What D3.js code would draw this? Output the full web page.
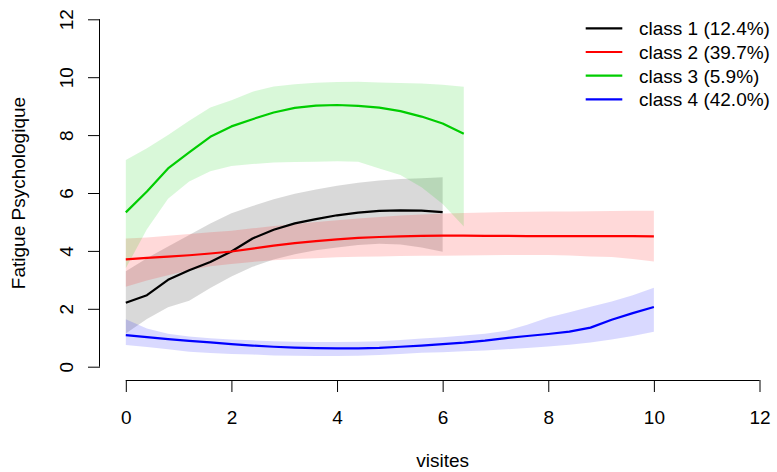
<!DOCTYPE html>
<html>
<head>
<meta charset="utf-8">
<script src="https://cdnjs.cloudflare.com/ajax/libs/d3/7.8.5/d3.min.js"></script>
<style>
  html, body { margin: 0; padding: 0; background: #ffffff; }
  svg { display: block; font-family: "Liberation Sans", Arial, Helvetica, sans-serif; }
</style>
</head>
<body>
<svg id="chart" width="777" height="472"></svg>
<script>
// Visit times shared by all latent classes
const visits = [0, 0.4, 0.8, 1.2, 1.6, 2.0, 2.4, 2.8, 3.2, 3.6, 4.0, 4.4, 4.8,
                5.2, 5.6, 6.0, 6.4, 6.8, 7.2, 7.6, 8.0, 8.4, 8.8, 9.2, 9.6, 10.0];

// Class 1 (up to visit 6)
const class1Mean  = [2.21, 2.47, 3.00, 3.33, 3.62, 3.98, 4.43, 4.73, 4.95, 5.10, 5.23, 5.32, 5.38, 5.40, 5.39, 5.34];
const class1Lower = [1.15, 1.65, 2.05, 2.28, 2.72, 3.12, 3.45, 3.70, 3.88, 4.02, 4.12, 4.20, 4.25, 4.22, 4.12, 3.97];
const class1Upper = [3.30, 3.75, 4.15, 4.55, 4.95, 5.30, 5.55, 5.78, 5.97, 6.12, 6.25, 6.35, 6.43, 6.48, 6.51, 6.54];

// Class 2 (up to visit 10)
const class2Mean  = [3.71, 3.76, 3.80, 3.85, 3.91, 3.98, 4.08, 4.18, 4.27, 4.34, 4.40, 4.45, 4.48,
                     4.50, 4.52, 4.53, 4.53, 4.52, 4.52, 4.51, 4.51, 4.51, 4.51, 4.51, 4.51, 4.50];
const class2Lower = [2.76, 2.98, 3.16, 3.33, 3.47, 3.55, 3.62, 3.68, 3.72, 3.75, 3.78, 3.80, 3.81,
                     3.82, 3.83, 3.83, 3.84, 3.85, 3.86, 3.86, 3.86, 3.84, 3.81, 3.79, 3.72, 3.63];
const class2Upper = [4.43, 4.46, 4.52, 4.58, 4.64, 4.70, 4.78, 4.86, 4.93, 5.00, 5.06, 5.12, 5.17,
                     5.22, 5.26, 5.29, 5.31, 5.33, 5.34, 5.35, 5.36, 5.36, 5.37, 5.38, 5.39, 5.39];

// Class 3 (up to visit 6.4)
const class3Mean  = [5.33, 6.05, 6.85, 7.40, 7.94, 8.30, 8.55, 8.78, 8.94, 9.02, 9.04, 9.01, 8.95, 8.83, 8.64, 8.40, 8.05];
const class3Lower = [3.40, 4.75, 5.80, 6.40, 6.75, 6.93, 7.00, 7.05, 7.07, 7.08, 7.10, 7.08, 6.85, 6.62, 6.20, 5.62, 4.84];
const class3Upper = [7.14, 7.55, 8.00, 8.50, 8.95, 9.20, 9.50, 9.68, 9.76, 9.81, 9.83, 9.84, 9.82, 9.80, 9.78, 9.74, 9.67];

// Class 4 (up to visit 10)
const class4Mean  = [1.09, 1.02, 0.95, 0.89, 0.84, 0.78, 0.73, 0.69, 0.66, 0.64, 0.63, 0.63, 0.65,
                     0.69, 0.73, 0.78, 0.83, 0.90, 0.99, 1.06, 1.13, 1.21, 1.35, 1.62, 1.85, 2.06];
const class4Lower = [0.75, 0.68, 0.60, 0.52, 0.47, 0.44, 0.42, 0.39, 0.38, 0.37, 0.37, 0.38, 0.40,
                     0.44, 0.48, 0.50, 0.53, 0.56, 0.60, 0.65, 0.70, 0.76, 0.84, 0.94, 1.06, 1.21];
const class4Upper = [1.64, 1.32, 1.14, 1.04, 0.98, 0.94, 0.91, 0.88, 0.86, 0.85, 0.85, 0.86, 0.88,
                     0.92, 0.97, 1.02, 1.08, 1.14, 1.24, 1.45, 1.70, 1.88, 2.07, 2.25, 2.47, 2.73];

const classLabels = ["class 1 (12.4%)", "class 2 (39.7%)", "class 3 (5.9%)", "class 4 (42.0%)"];
const classColors = ["#000000", "#ff0000", "#00cd00", "#0000ff"];

const xTicks = [0, 2, 4, 6, 8, 10, 12];
const yTicks = [0, 2, 4, 6, 8, 10, 12];
const xTitle = "visites";
const yTitle = "Fatigue Psychologique";

// Assemble per-class series
const means  = [class1Mean, class2Mean, class3Mean, class4Mean];
const lowers = [class1Lower, class2Lower, class3Lower, class4Lower];
const uppers = [class1Upper, class2Upper, class3Upper, class4Upper];
const series = means.map((m, k) => m.map((v, i) => ({
  t: visits[i], mean: v, lo: lowers[k][i], hi: uppers[k][i]
})));

const svg = d3.select("#chart");
const FS = 19;

const x = d3.scaleLinear().domain([0, 12]).range([125.8, 759.5]);
const y = d3.scaleLinear().domain([0, 12]).range([366.7, 19.3]);

// Confidence bands
const band = d3.area().x(d => x(d.t)).y0(d => y(d.lo)).y1(d => y(d.hi));
svg.append("g").selectAll("path").data(series).join("path")
  .attr("d", band)
  .attr("fill", (d, k) => classColors[k])
  .attr("fill-opacity", 0.15)
  .attr("stroke", "none");

// Mean trajectories
const line = d3.line().x(d => x(d.t)).y(d => y(d.mean));
svg.append("g").selectAll("path").data(series).join("path")
  .attr("d", line)
  .attr("fill", "none")
  .attr("stroke", (d, k) => classColors[k])
  .attr("stroke-width", 2.2)
  .attr("stroke-linejoin", "round");

// X axis (detached, R style)
const xAxis = svg.append("g").attr("transform", "translate(0,380)")
  .call(d3.axisBottom(x).tickValues(xTicks).tickSize(12).tickPadding(4).tickSizeOuter(0)
        .tickFormat(d3.format("d")));
xAxis.select(".domain").attr("d", `M${x(0)},0.5H${x(12)}`).attr("stroke", "#000");
xAxis.selectAll(".tick line").attr("stroke", "#000");
xAxis.selectAll(".tick text").attr("font-size", FS).attr("fill", "#000")
  .attr("dy", null).attr("y", 44);

// Y axis (detached, rotated labels)
const yAxis = svg.append("g").attr("transform", "translate(100,0)")
  .call(d3.axisLeft(y).tickValues(yTicks).tickSize(12).tickSizeOuter(0)
        .tickFormat(d3.format("d")));
yAxis.select(".domain").attr("d", `M-0.5,${y(0)}V${y(12)}`).attr("stroke", "#000");
yAxis.selectAll(".tick line").attr("stroke", "#000");
yAxis.selectAll(".tick text")
  .attr("font-size", FS).attr("fill", "#000")
  .attr("x", null).attr("dy", null)
  .attr("text-anchor", "middle")
  .attr("transform", "translate(-27.3,0) rotate(-90)");

// Axis titles
svg.append("text")
  .attr("x", (x(0) + x(12)) / 2).attr("y", 467)
  .attr("text-anchor", "middle").attr("font-size", FS).attr("fill", "#000")
  .text(xTitle);
svg.append("text")
  .attr("transform", `translate(25,${(y(0) + y(12)) / 2}) rotate(-90)`)
  .attr("text-anchor", "middle").attr("font-size", FS).attr("fill", "#000")
  .text(yTitle);

// Legend
const legend = svg.append("g").attr("transform", "translate(585.7,28.3)");
const rows = legend.selectAll("g").data(classLabels).join("g")
  .attr("transform", (d, i) => `translate(0,${i * 23.7})`);
rows.append("line")
  .attr("x1", 0).attr("x2", 36.6).attr("y1", 0).attr("y2", 0)
  .attr("stroke", (d, i) => classColors[i]).attr("stroke-width", 2.2);
rows.append("text")
  .attr("x", 53.3).attr("y", 7)
  .attr("font-size", FS).attr("fill", "#000")
  .text(d => d);
</script>
</body>
</html>
